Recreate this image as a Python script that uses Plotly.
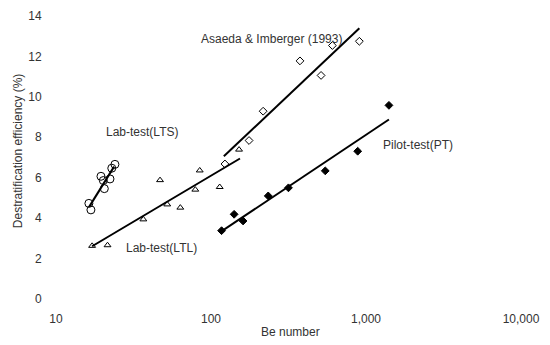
import plotly.graph_objects as go

# Lab-test (LTS)
lts_x = [16.3, 16.8, 19.5, 20.2, 22.3, 20.5, 22.9, 24.0]
lts_y = [4.73, 4.41, 6.07, 5.86, 5.94, 5.46, 6.47, 6.66]
lts_fit_x = [16.4, 23.7]
lts_fit_y = [4.57, 6.55]

# Lab-test (LTL)
ltl_x = [17.1, 21.5, 36.6, 46.9, 52.2, 63.4, 79.2, 84.6, 113.8, 151.7]
ltl_y = [2.63, 2.66, 3.94, 5.88, 4.68, 4.52, 5.41, 6.36, 5.54, 7.39]
ltl_fit_x = [17.1, 153.8]
ltl_fit_y = [2.61, 6.95]

# Asaeda & Imberger (1993)
ai_x = [123, 176, 217, 375, 513, 607, 906]
ai_y = [6.68, 7.84, 9.29, 11.78, 11.06, 12.54, 12.75]
ai_fit_x = [121, 906]
ai_fit_y = [7.06, 13.39]

# Pilot-test (PT)
pt_x = [117, 141, 161, 234, 316, 546, 884, 1406]
pt_y = [3.38, 4.19, 3.86, 5.10, 5.50, 6.34, 7.31, 9.58]
pt_fit_x = [116, 1406]
pt_fit_y = [3.33, 8.88]

x_tickvals = [10, 100, 1000, 10000]
x_ticktext = ["10", "100", "1,000", "10,000"]
y_tickvals = [0, 2, 4, 6, 8, 10, 12, 14]

FONT = "Liberation Sans, Arial, sans-serif"
TXT = "#333333"

fig = go.Figure()

def fit(x, y):
    fig.add_trace(go.Scatter(x=x, y=y, mode="lines",
                             line=dict(color="black", width=2),
                             showlegend=False, hoverinfo="skip"))

def pts(x, y, symbol, size):
    fig.add_trace(go.Scatter(
        x=x, y=y, mode="markers", showlegend=False,
        marker=dict(symbol=symbol, size=size, color="black",
                    line=dict(color="black", width=1)),
        cliponaxis=False))

fit(lts_fit_x, lts_fit_y)
fit(ltl_fit_x, ltl_fit_y)
fit(ai_fit_x, ai_fit_y)
fit(pt_fit_x, pt_fit_y)
pts(lts_x, lts_y, "circle-open", 8)
pts(ltl_x, ltl_y, "triangle-up-open", 6)
pts(ai_x, ai_y, "diamond-open", 6)
pts(pt_x, pt_y, "diamond", 6)

annos = [
    ("Asaeda & Imberger (1993)", 271, 33),
    ("Lab-test(LTS)", 141.5, 127.5),
    ("Pilot-test(PT)", 417.5, 141.5),
    ("Lab-test(LTL)", 161, 246.5),
]
L, R, T, B = 56, 29, 9, 46
W, H = 550, 345
pw, ph = W - L - R, H - T - B
for text, px, py in annos:
    fig.add_annotation(text=text, xref="paper", yref="paper",
                       x=(px - L) / pw, y=(H - B - py) / ph,
                       showarrow=False, xanchor="center", yanchor="middle",
                       font=dict(family=FONT, size=12, color=TXT))

fig.add_annotation(text="Destratification efficiency (%)", xref="paper", yref="paper",
                   x=(18 - L) / pw, y=(H - B - 147.5) / ph, textangle=-90,
                   showarrow=False, xanchor="center", yanchor="middle",
                   font=dict(family=FONT, size=12, color=TXT))
fig.add_annotation(text="Be number", xref="paper", yref="paper",
                   x=(290 - L) / pw, y=(H - B - 333) / ph,
                   showarrow=False, xanchor="center", yanchor="middle",
                   font=dict(family=FONT, size=12, color=TXT))

fig.update_layout(
    width=W, height=H,
    margin=dict(l=L, r=R, t=T, b=B),
    paper_bgcolor="white", plot_bgcolor="white",
    font=dict(family=FONT, size=12, color=TXT),
    xaxis=dict(type="log", range=[1, 4], tickvals=x_tickvals, ticktext=x_ticktext,
               showgrid=False, zeroline=False, showline=False,
               ticks="outside", ticklen=9, tickcolor="rgba(0,0,0,0)",
               tickfont=dict(family=FONT, size=12, color=TXT)),
    yaxis=dict(range=[0, 14], tickvals=y_tickvals,
               showgrid=False, zeroline=False, showline=False,
               ticks="outside", ticklen=11, tickcolor="rgba(0,0,0,0)",
               tickfont=dict(family=FONT, size=12, color=TXT)),
)

fig.write_html("out.html")
